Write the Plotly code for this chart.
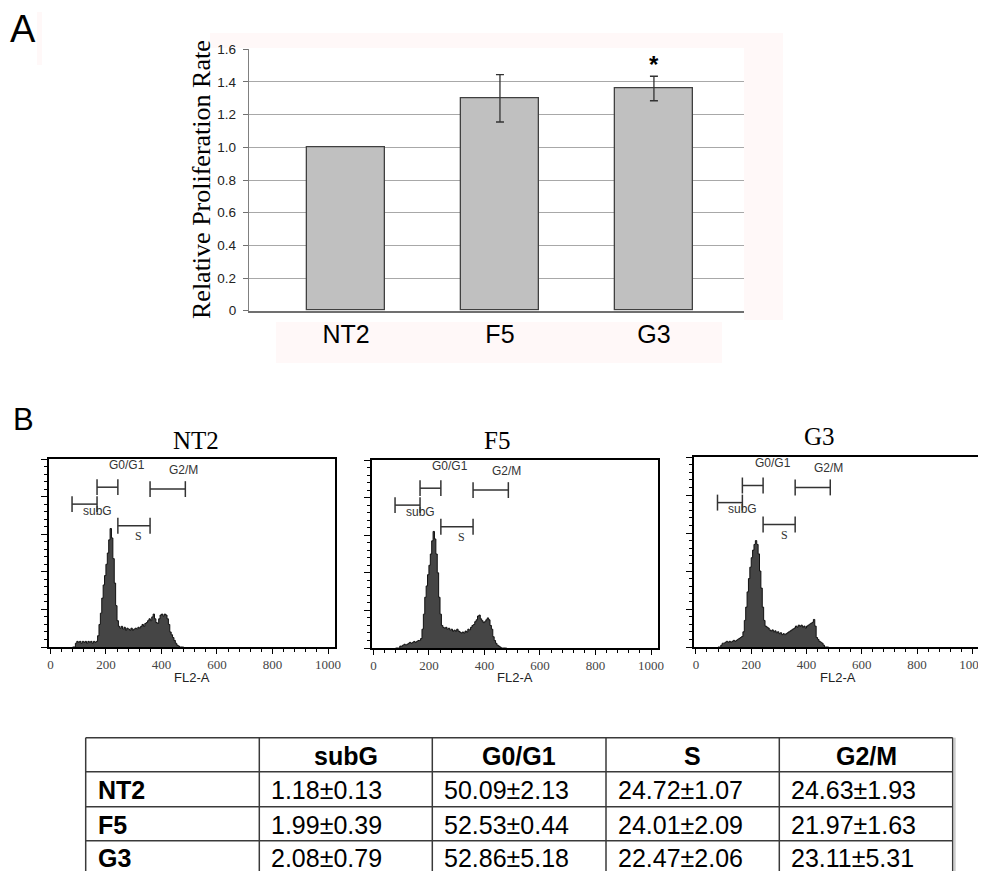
import plotly.graph_objects as go

# target picture size and the page's default body margin
W_PAGE, H_PAGE = 986, 871
BODY = 8
W, H = W_PAGE - BODY, H_PAGE - BODY

# ---------------- Panel A data ----------------
CATEGORIES = ["NT2", "F5", "G3"]
RATES = [1.00, 1.30, 1.36]
RATE_ERR = [0, 0.145, 0.075]
Y_TICKS = [0, 0.2, 0.4, 0.6, 0.8, 1.0, 1.2, 1.4, 1.6]
Y_TICK_TEXT = ["0", "0.2", "0.4", "0.6", "0.8", "1.0", "1.2", "1.4", "1.6"]
SIGNIFICANT = ["G3"]

# ---------------- Panel B data (FL2-A histograms, bins of 5 from 80) ----------------
BIN_LEFT = list(range(80, 480, 5))
NT2_COUNTS = [0, 0, 2, 3, 2.5, 3, 2, 3, 2.5, 3,
              2, 3, 2.5, 3, 2, 3, 2.5, 3, 6, 12,
              18, 26, 33, 38, 44, 50, 57, 63, 58, 47,
              34, 22, 14, 11, 10, 11, 9.5, 10.5, 9, 10,
              9.5, 9, 10, 9, 9.5, 10, 9.5, 10.5, 10, 11,
              12, 11, 12.5, 13, 14, 15, 14, 16, 17.5, 15,
              13, 12.5, 15, 17, 17.5, 16.5, 17.5, 17, 15, 12,
              8, 6.5, 5, 3.5, 2, 1, 0.5, 0, 0, 0]
F5_COUNTS = [0, 0, 0, 1, 1, 1.5, 2, 1.5, 2, 2.5,
             3, 2.5, 3, 3.5, 3, 3.5, 4, 4, 5, 10,
             18, 27, 33, 39, 44, 50, 57, 62, 58, 50,
             40, 27, 18, 12, 11, 10.5, 11, 10, 10.5, 9.5,
             10, 9, 9.5, 9, 10, 9, 8.5, 8, 8.5, 8,
             9, 8.5, 10, 9.5, 11, 12, 12.5, 14, 15, 17,
             17.5, 15.5, 14.5, 13.5, 14, 15, 16, 15, 12, 10,
             6, 4, 2.5, 1.5, 1, 0.5, 0, 0, 0, 0]
G3_COUNTS = [0, 0, 1, 2, 2, 2.5, 3, 2.5, 3, 2.5,
             3, 3.5, 3, 3.5, 4, 4.5, 5, 5.5, 8, 14,
             21, 29, 36, 42, 47, 51, 54, 56, 54, 49,
             40, 31, 21, 14, 11, 10.5, 10, 9, 8.5, 9,
             8, 8.5, 7.5, 8, 7, 7.5, 6.5, 7, 6.5, 7,
             7.5, 8, 8.5, 9, 9.5, 10, 11, 10.5, 11.5, 11,
             11.5, 10.5, 11, 10, 11, 11.5, 12, 12.5, 13, 14.5,
             11, 5, 4, 3, 2.5, 2, 1, 0, 0, 0]
HIST_NAMES = ["NT2", "F5", "G3"]
HIST_COUNTS = [NT2_COUNTS, F5_COUNTS, G3_COUNTS]
HIST_RANGES = [[-5, 1025], [-5, 1025], [-7, 1035]]

GATE_NAMES = ["subG", "G0/G1", "S", "G2/M"]
GATE_LO = [78, 168, 243, 359]
GATE_HI = [168, 243, 359, 486]
GATE_LEVEL = [76, 85, 64.5, 84]
GATE_LABEL_X = [169, 277, 319, 480]
GATE_LABEL_Y = [72.4, 96.8, 58.8, 94]

# ---------------- Table data ----------------
TABLE_HEADER = ["", "subG", "G0/G1", "S", "G2/M"]
TABLE_ROWS = ["NT2", "F5", "G3"]
SUBG_VALS = ["1.18±0.13", "1.99±0.39", "2.08±0.79"]
G0G1_VALS = ["50.09±2.13", "52.53±0.44", "52.86±5.18"]
S_VALS = ["24.72±1.07", "24.01±2.09", "22.47±2.06"]
G2M_VALS = ["24.63±1.93", "21.97±1.63", "23.11±5.31"]


def px(x):
    return (x - BODY) / W


def py(y):
    return 1 - (y - BODY) / H


SERIF = "Liberation Serif"
SANS = "Liberation Sans"
TABLE_FONT = "Liberation Sans"
TABLE_SIZE = 25

fig = go.Figure()

# ---- Panel A bars ----
fig.add_trace(go.Bar(
    x=CATEGORIES, y=RATES, width=0.505,
    marker=dict(color="#c0c0c0", line=dict(color="#404040", width=1.3)),
    xaxis="x", yaxis="y", showlegend=False, hoverinfo="skip",
))
err_cats = [c for c, e in zip(CATEGORIES, RATE_ERR) if e > 0]
err_vals = [v for v, e in zip(RATES, RATE_ERR) if e > 0]
err_sizes = [e for e in RATE_ERR if e > 0]
fig.add_trace(go.Scatter(
    x=err_cats, y=err_vals, mode="markers", marker=dict(size=1, color="rgba(0,0,0,0)"),
    error_y=dict(type="data", array=err_sizes, visible=True,
                 color="#333333", thickness=1.3, width=4),
    xaxis="x", yaxis="y", showlegend=False, hoverinfo="skip",
))

# ---- Panel B histograms ----
layout_axes = {}
hist_dom_x = [(49, 335), (372, 658), (694, 982)]
hist_dom_y = [(459, 647), (460, 648), (457, 647)]
title_pos = [(196, 440), (497, 440), (819, 437)]
annotations = []
for i, (name, counts) in enumerate(zip(HIST_NAMES, HIST_COUNTS)):
    xa = f"x{i + 2}"
    ya = f"y{i + 2}"
    fig.add_trace(go.Scatter(
        x=BIN_LEFT + [BIN_LEFT[-1] + 5], y=counts + [0],
        mode="lines", line=dict(shape="hv", color="#111111", width=1),
        fill="tozeroy", fillcolor="#454545",
        xaxis=xa, yaxis=ya, showlegend=False, hoverinfo="skip",
    ))
    gx, gy = [], []
    for lo, hi, lv in zip(GATE_LO, GATE_HI, GATE_LEVEL):
        gx += [lo, hi, None, lo, lo, None, hi, hi, None]
        gy += [lv, lv, None, lv - 4.2, lv + 4.2, None, lv - 4.2, lv + 4.2, None]
    fig.add_trace(go.Scatter(
        x=gx, y=gy, mode="lines", line=dict(color="#333333", width=1.5),
        xaxis=xa, yaxis=ya, showlegend=False, hoverinfo="skip",
    ))
    for gname, lx, ly in zip(GATE_NAMES, GATE_LABEL_X, GATE_LABEL_Y):
        annotations.append(dict(
            x=lx, y=ly, xref=xa, yref=ya, text=gname, showarrow=False,
            xanchor="center", yanchor="middle",
            font=dict(family=SERIF if gname == "S" else SANS, size=12, color="#333333"),
        ))
    dx0, dx1 = hist_dom_x[i]
    dy0, dy1 = hist_dom_y[i]
    layout_axes[f"xaxis{i + 2}"] = dict(
        domain=[px(dx0), px(dx1)], anchor=ya, range=HIST_RANGES[i], automargin=False,
        tick0=0, dtick=200, ticks="outside", ticklen=5, tickwidth=1.3, tickcolor="black",
        minor=dict(dtick=40, ticks="outside", ticklen=3, tickcolor="black", tickwidth=1.2),
        showline=True, mirror=True, linecolor="black", linewidth=1.5,
        showgrid=False, zeroline=False, ticklabeloverflow="allow",
        tickfont=dict(family=SERIF, size=13, color="#444444"),
    )
    layout_axes[f"yaxis{i + 2}"] = dict(
        domain=[py(dy1), py(dy0)], anchor=xa, range=[0, 100], automargin=False,
        tick0=0, dtick=20, ticks="outside", ticklen=6, tickwidth=1.3, tickcolor="black",
        minor=dict(dtick=4, ticks="outside", ticklen=3, tickcolor="black", tickwidth=1.2),
        showline=True, mirror=True, linecolor="black", linewidth=1.5,
        showgrid=False, zeroline=False, showticklabels=False,
    )
    tx, ty = title_pos[i]
    annotations.append(dict(
        x=px(tx), y=py(ty), xref="paper", yref="paper", text=name, showarrow=False,
        xanchor="center", yanchor="middle",
        font=dict(family=SERIF, size=25, color="black"),
    ))
    annotations.append(dict(
        x=0.5, y=py(677), xref=f"{xa} domain", yref="paper", text="FL2-A", showarrow=False,
        xanchor="center", yanchor="middle",
        font=dict(family=SANS, size=13, color="#222222"),
    ))

# ---- Panel A annotations ----
annotations.append(dict(
    x=px(201), y=py(180), xref="paper", yref="paper", text="Relative Proliferation Rate",
    textangle=-90, showarrow=False, xanchor="center", yanchor="middle",
    font=dict(family=SERIF, size=26, color="black"),
))
for cat in SIGNIFICANT:
    annotations.append(dict(
        x=cat, y=py(49), xref="x", yref="paper", text="<b>*</b>", showarrow=False,
        xanchor="center", yanchor="top", font=dict(family=SANS, size=24, color="black"),
    ))
annotations.append(dict(x=px(8), y=py(6), xref="paper", yref="paper", text="A",
                        showarrow=False, xanchor="left", yanchor="top",
                        font=dict(family=SANS, size=38, color="black")))
annotations.append(dict(x=px(11), y=py(400), xref="paper", yref="paper", text="B",
                        showarrow=False, xanchor="left", yanchor="top",
                        font=dict(family=SANS, size=31, color="black")))

# ---- Table ----
COL_EDGES = [85.7, 259.3, 432.3, 606, 779.3, 952.7]
ROW_EDGES = [737.7, 771.7, 806.7, 840.7, 874]
shapes = []
for (x0, y0, x1, y1) in [(744, 33, 783, 320), (210, 33, 744, 48), (276, 322, 722, 363), (37, 12, 42, 65)]:
    shapes.append(dict(type="rect", xref="paper", yref="paper", x0=px(x0), x1=px(x1),
                       y0=py(y1), y1=py(y0), fillcolor="#fff8f8", line=dict(width=0),
                       layer="below"))
for ry in ROW_EDGES:
    shapes.append(dict(type="line", xref="paper", yref="paper",
                       x0=px(COL_EDGES[0]), x1=px(COL_EDGES[-1]), y0=py(ry), y1=py(ry),
                       line=dict(color="#3a3a3a", width=1.5)))
for cx in COL_EDGES:
    shapes.append(dict(type="line", xref="paper", yref="paper",
                       x0=px(cx), x1=px(cx), y0=py(ROW_EDGES[0]), y1=py(ROW_EDGES[-1]),
                       line=dict(color="#3a3a3a", width=1.5)))
shapes.append(dict(type="line", xref="paper", yref="paper",
                   x0=px(COL_EDGES[-1] + 2), x1=px(COL_EDGES[-1] + 2),
                   y0=py(ROW_EDGES[0]), y1=py(ROW_EDGES[-1]),
                   line=dict(color="#cccccc", width=2)))

for j, htxt in enumerate(TABLE_HEADER):
    if not htxt:
        continue
    annotations.append(dict(
        x=px((COL_EDGES[j] + COL_EDGES[j + 1]) / 2), y=py((ROW_EDGES[0] + ROW_EDGES[1]) / 2 + 1),
        xref="paper", yref="paper", text=f"<b>{htxt}</b>", showarrow=False,
        xanchor="center", yanchor="middle",
        font=dict(family=TABLE_FONT, size=TABLE_SIZE, color="black"),
    ))
columns = [SUBG_VALS, G0G1_VALS, S_VALS, G2M_VALS]
for r, rname in enumerate(TABLE_ROWS):
    yc = py((ROW_EDGES[r + 1] + ROW_EDGES[r + 2]) / 2 + 1)
    annotations.append(dict(
        x=px(COL_EDGES[0] + 10), y=yc, xref="paper", yref="paper", text=f"<b>{rname}</b>",
        showarrow=False, xanchor="left", yanchor="middle",
        font=dict(family=TABLE_FONT, size=TABLE_SIZE, color="black"),
    ))
    for c, col in enumerate(columns):
        annotations.append(dict(
            x=px(COL_EDGES[c + 1] + 10), y=yc, xref="paper", yref="paper", text=col[r],
            showarrow=False, xanchor="left", yanchor="middle",
            font=dict(family=TABLE_FONT, size=TABLE_SIZE, color="black"),
        ))

fig.update_layout(
    width=W, height=H, margin=dict(l=0, r=0, t=0, b=0, pad=0, autoexpand=False),
    paper_bgcolor="white", plot_bgcolor="white",
    xaxis=dict(domain=[px(249), px(744)], anchor="y", range=[-0.63, 2.585], automargin=False,
               showgrid=False, zeroline=False, showline=True, linecolor="#707070", linewidth=2,
               ticks="", ticklen=0, ticklabelstandoff=0,
               tickfont=dict(family=SANS, size=25, color="black")),
    yaxis=dict(domain=[py(310.7), py(49.3)], anchor="x", range=[0, 1.6], automargin=False,
               tickvals=Y_TICKS, ticktext=Y_TICK_TEXT,
               ticks="outside", ticklen=5, tickcolor="#707070", ticklabelstandoff=4,
               showgrid=True, gridcolor="#a8a8a8", gridwidth=1.3, zeroline=False,
               showline=True, linecolor="#808080", linewidth=1.3,
               tickfont=dict(family=SANS, size=13.5, color="#222222")),
    annotations=annotations,
    shapes=shapes,
    bargap=0,
    **layout_axes,
)

fig.write_html("out.html")
